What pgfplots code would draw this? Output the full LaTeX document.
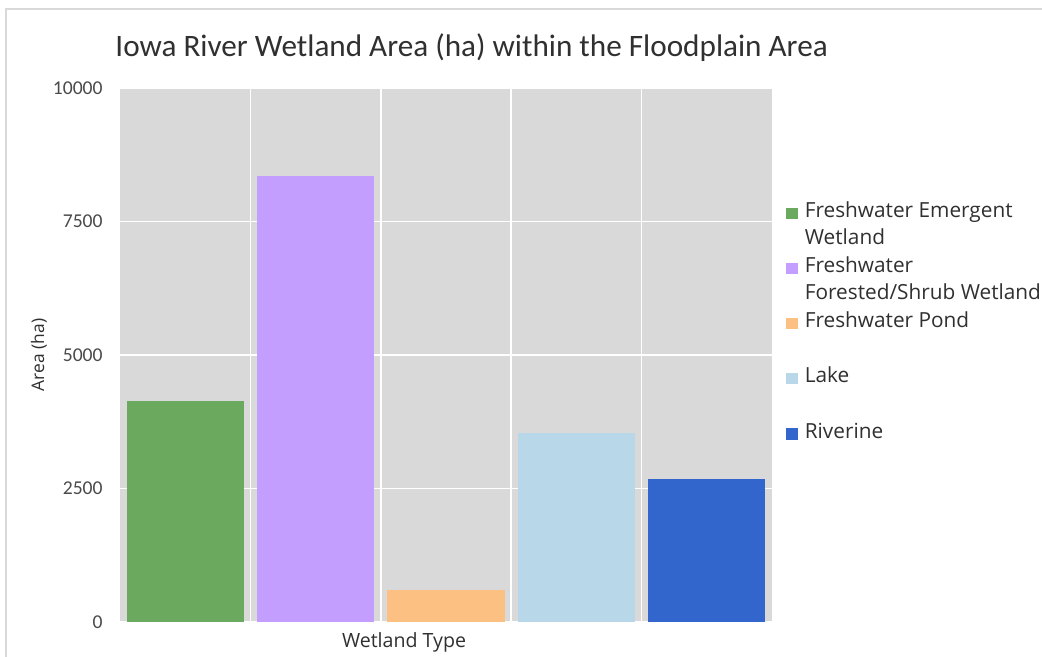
\documentclass[border=0pt]{standalone}
\usepackage{pgfplots}
\pgfplotsset{compat=1.18}
\usepackage{fontspec}
\setmainfont{Carlito}
\newfontfamily\uifont{Open Sans}

\definecolor{plotbg}{HTML}{D9D9D9}
\definecolor{frameclr}{HTML}{D9D9D9}
\definecolor{txtclr}{HTML}{303030}
\definecolor{tickclr}{HTML}{4A4A4A}
\definecolor{cEmergent}{HTML}{6AA95E}
\definecolor{cForested}{HTML}{C39EFE}
\definecolor{cPond}{HTML}{FCC082}
\definecolor{cLake}{HTML}{B8D7E9}
\definecolor{cRiverine}{HTML}{3366CC}

\begin{document}
\begin{tikzpicture}
\useasboundingbox (0,0) rectangle (521pt,328.5pt);
\fill[white] (0,0) rectangle (521pt,328.5pt);
% chart frame
\draw[frameclr, line width=1.2pt] (3pt,-5pt) -- (3pt,324pt) -- (530pt,324pt);

% title
\node[anchor=base west, inner sep=0pt, text=txtclr, font=\fontsize{15.6pt}{18pt}\selectfont]
  at (57.5pt,300pt) {Iowa River Wetland Area (ha) within the Floodplain Area};

\begin{axis}[
  at={(60pt,17.5pt)}, anchor=south west,
  scale only axis, width=326pt, height=267pt,
  xmin=-0.5, xmax=4.5, ymin=0, ymax=10000,
  axis background/.style={fill=plotbg},
  axis line style={draw=none},
  major tick length=0pt,
  xtick={0.5,1.5,2.5,3.5}, xticklabels={,,,},
  ytick={0,2500,5000,7500,10000},
  xmajorgrids, ymajorgrids,
  grid style={white, line width=0.8pt},
  /pgf/number format/assume math mode=true,
  /pgf/number format/set thousands separator={},
  scaled y ticks=false,
  yticklabel style={font=\fontsize{9.8pt}{11pt}\selectfont, text=tickclr, inner sep=0pt, xshift=-8.5pt},
  ybar, bar shift=0pt, bar width=0.9,
  legend style={
    at={(1.0215,0.7934)}, anchor=north west,
    draw=none, fill=none, inner sep=0pt, row sep=3.1pt,
    font=\uifont\fontsize{10.4pt}{13.5pt}\selectfont, text=txtclr,
    nodes={inner sep=0pt, align=left},
  },
  legend cell align=left,
  legend image code/.code={\fill[#1] (0pt,2pt) rectangle (5.75pt,7.6pt); \path (9.2pt,2pt);},
]
\addplot[fill=cEmergent, draw=none] coordinates {(0,4134)};
\addlegendentry{\strut Freshwater Emergent\\\strut Wetland}
\addplot[fill=cForested, draw=none] coordinates {(1,8351)};
\addlegendentry{\strut Freshwater\\\strut Forested/Shrub Wetland}
\addplot[fill=cPond, draw=none] coordinates {(2,592)};
\addlegendentry{\strut Freshwater Pond\\\strut}
\addplot[fill=cLake, draw=none] coordinates {(3,3542)};
\addlegendentry{\strut Lake\\\strut}
\addplot[fill=cRiverine, draw=none] coordinates {(4,2686)};
\addlegendentry{\strut Riverine\\\strut}
\end{axis}

% axis titles
\node[rotate=90, inner sep=0pt, text=txtclr, font=\uifont\fontsize{8.7pt}{11pt}\selectfont]
  at (19.5pt,151pt) {Area (ha)};
\node[anchor=base, inner sep=0pt, text=txtclr, font=\uifont\fontsize{9.8pt}{11pt}\selectfont]
  at (202pt,4.5pt) {Wetland Type};
\end{tikzpicture}
\end{document}
